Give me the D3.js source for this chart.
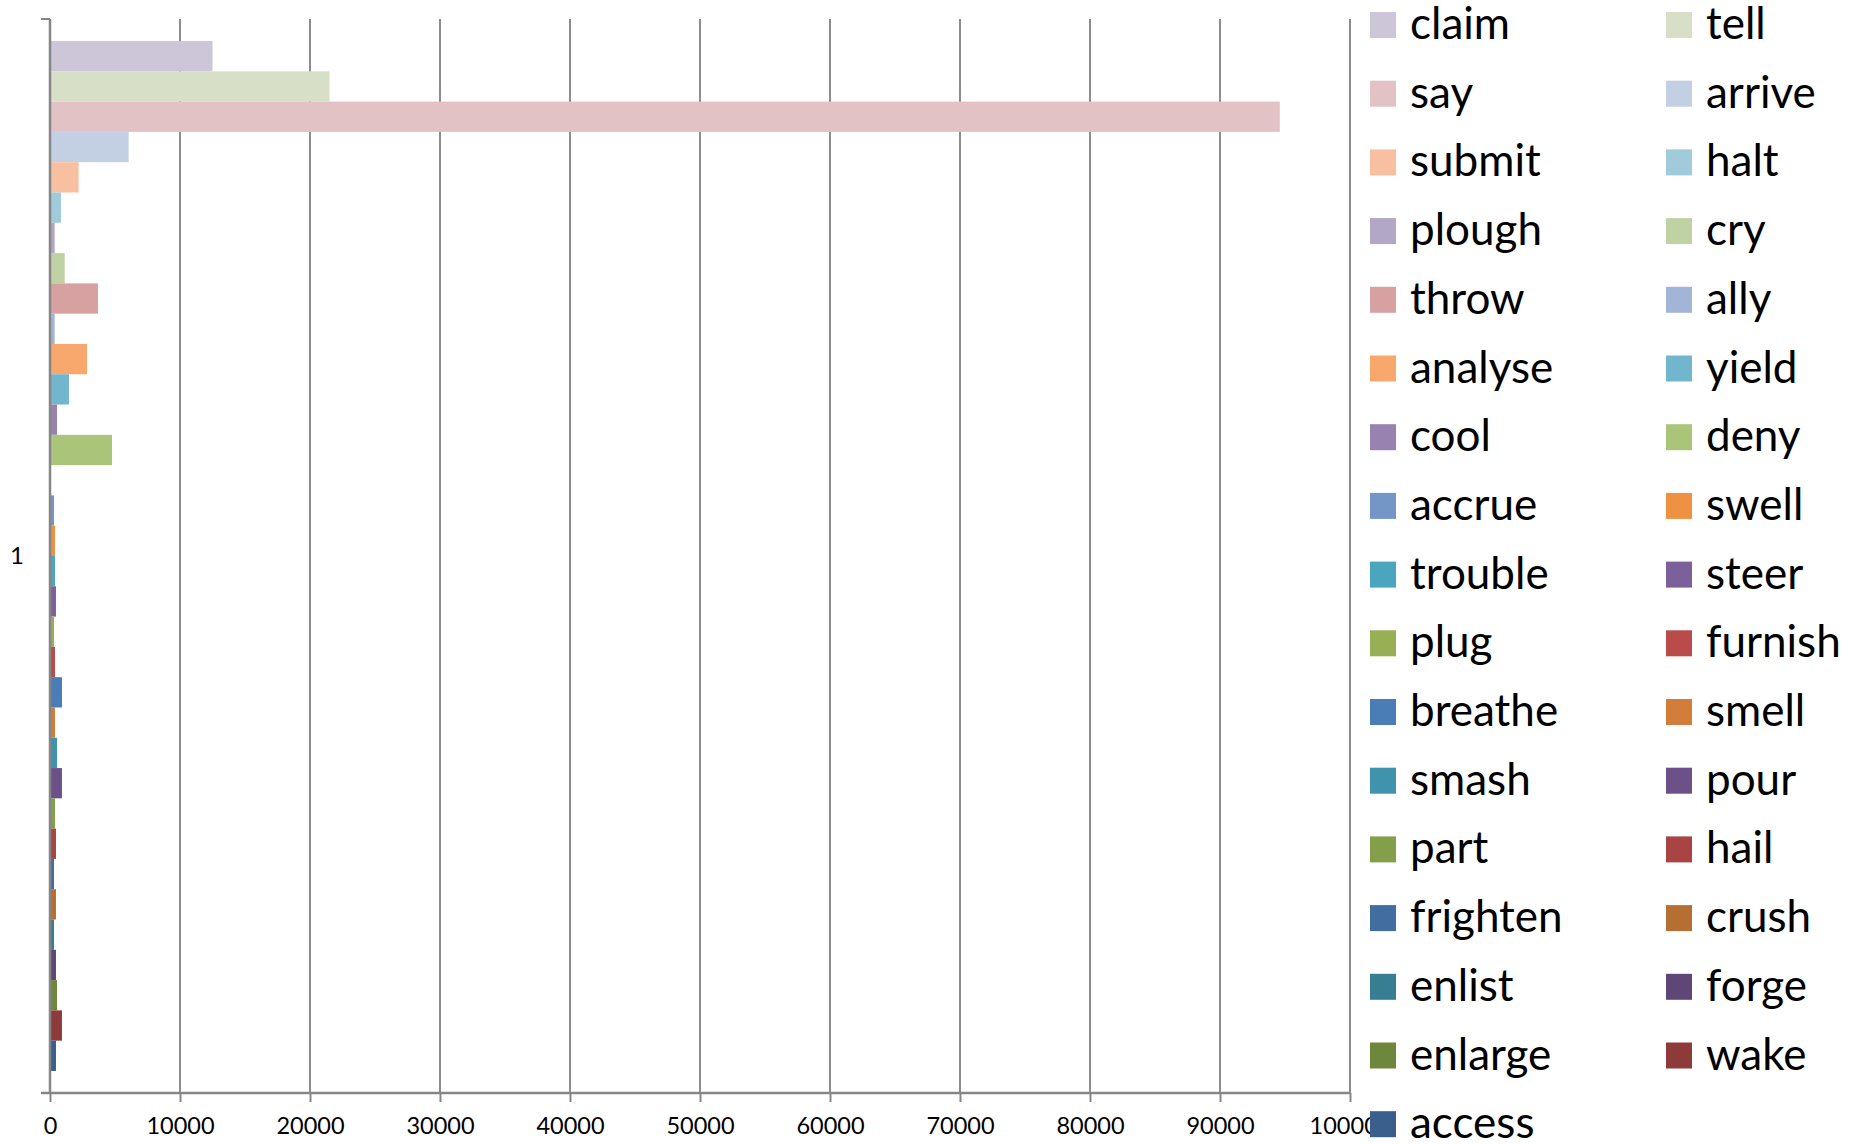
<!DOCTYPE html>
<html>
<head>
<meta charset="utf-8">
<script src="https://cdn.jsdelivr.net/npm/d3@7"></script>
<style>
  body { margin: 0; background: #fff; }
  text { font-family: Lato, "Open Sans", sans-serif; fill: #000; }
</style>
</head>
<body>
<div id="chart"></div>
<script>
// one category, 34 bar slots (slot 15 is empty in the original)
var categories = ["1"];
var seriesNames = ["claim", "tell", "say", "arrive", "submit", "halt", "plough", "cry",
    "throw", "ally", "analyse", "yield", "cool", "deny", "", "accrue", "swell",
    "trouble", "steer", "plug", "furnish", "breathe", "smell", "smash", "pour",
    "part", "hail", "frighten", "crush", "enlist", "forge", "enlarge", "wake", "access"];
var seriesValues = [12500, 21500, 94600, 6050, 2200, 850, 360, 1130,
    3690, 360, 2850, 1460, 540, 4770, 0, 310, 385,
    385, 460, 310, 385, 920, 385, 540, 920,
    385, 460, 310, 460, 310, 460, 540, 920, 460];
var seriesColors = ["#cdc6d8", "#d7dfc7", "#e2c2c4", "#c3cfe2", "#f8c0a0", "#a0cbda", "#b3a7c6", "#c0d2a3",
    "#d8a1a1", "#a3b5d6", "#f8a86c", "#72b6cd", "#9782b0", "#aac47a", "#ffffff", "#7496c6", "#ee9143",
    "#4ba5bf", "#7b609a", "#97b055", "#b94b4b", "#4a7cb6", "#d27e3a", "#4093ac", "#6c5189",
    "#839f4a", "#a84444", "#426da1", "#b66f33", "#377e92", "#5e4777", "#6f873d", "#8e3a3a", "#3a5f8c"];
var xTicks = [0, 10000, 20000, 30000, 40000, 50000, 60000, 70000, 80000, 90000, 100000];

var width = 1862;
var height = 1144;
var margin = { top: 19, left: 50 };
var plotRight = 1350;
var plotBottom = 1093;
var axisColor = "#868686";

var svg = d3.select("#chart")
    .append("svg")
    .attr("width", width)
    .attr("height", height);

var x = d3.scaleLinear()
    .domain([0, 100000])
    .range([margin.left, plotRight]);

var y0 = d3.scaleBand()
    .domain(categories)
    .range([margin.top, plotBottom])
    .paddingOuter(0.0214);

var y1 = d3.scaleBand()
    .domain(d3.range(seriesNames.length))
    .range([0, y0.bandwidth()]);

// vertical gridlines
svg.append("g")
    .selectAll("line")
    .data(xTicks.slice(1))
    .enter()
    .append("line")
    .attr("x1", function(d) { return x(d); })
    .attr("x2", function(d) { return x(d); })
    .attr("y1", margin.top)
    .attr("y2", plotBottom)
    .attr("stroke", "#8c8c8c")
    .attr("stroke-width", 2);

// bars
var rows = seriesNames.map(function(name, i) {
    return { name: name, value: seriesValues[i], color: seriesColors[i], i: i };
});

svg.append("g")
    .selectAll("rect")
    .data(rows.filter(function(d) { return d.value > 0; }))
    .enter()
    .append("rect")
    .attr("x", x(0))
    .attr("y", function(d) { return y0("1") + y1(d.i); })
    .attr("width", function(d) { return x(d.value) - x(0); })
    .attr("height", y1.bandwidth())
    .attr("fill", function(d) { return d.color; });

// x axis
var xAxis = d3.axisBottom(x)
    .tickValues(xTicks)
    .tickSize(9)
    .tickPadding(15)
    .tickFormat(d3.format("d"));

var gx = svg.append("g")
    .attr("transform", "translate(0," + plotBottom + ")")
    .call(xAxis);
gx.select(".domain").remove();
gx.selectAll(".tick line").attr("stroke", axisColor).attr("stroke-width", 2);
gx.selectAll(".tick text")
    .attr("font-size", 23.5)
    .attr("font-family", "Lato")
    .attr("fill", "#000");
gx.append("line")
    .attr("x1", 41)
    .attr("x2", plotRight)
    .attr("stroke", axisColor)
    .attr("stroke-width", 2.5);

// y axis
var yAxis = d3.axisLeft(y0)
    .tickSize(0)
    .tickPadding(26);

var gy = svg.append("g")
    .attr("transform", "translate(" + margin.left + ",0)")
    .call(yAxis);
gy.select(".domain").remove();
gy.selectAll(".tick text")
    .attr("font-size", 24)
    .attr("font-family", "Lato")
    .attr("fill", "#000");
gy.append("line")
    .attr("y1", margin.top)
    .attr("y2", plotBottom)
    .attr("stroke", axisColor)
    .attr("stroke-width", 2.5);
gy.selectAll(".edge")
    .data([margin.top, plotBottom])
    .enter()
    .append("line")
    .attr("x1", -9)
    .attr("x2", 0)
    .attr("y1", function(d) { return d; })
    .attr("y2", function(d) { return d; })
    .attr("stroke", axisColor)
    .attr("stroke-width", 2);

// legend, two columns, filled row by row
var legendItems = rows.filter(function(d) { return d.name !== ""; });

var legend = svg.append("g")
    .selectAll("g")
    .data(legendItems)
    .enter()
    .append("g")
    .attr("transform", function(d, i) {
        return "translate(" + (1370 + (i % 2) * 296) + "," + (12 + Math.floor(i / 2) * 68.7) + ")";
    });

legend.append("rect")
    .attr("width", 26)
    .attr("height", 26)
    .attr("fill", function(d) { return d.color; });

legend.append("text")
    .attr("x", 40)
    .attr("y", 27)
    .attr("font-size", 44)
    .text(function(d) { return d.name; });
</script>
</body>
</html>
